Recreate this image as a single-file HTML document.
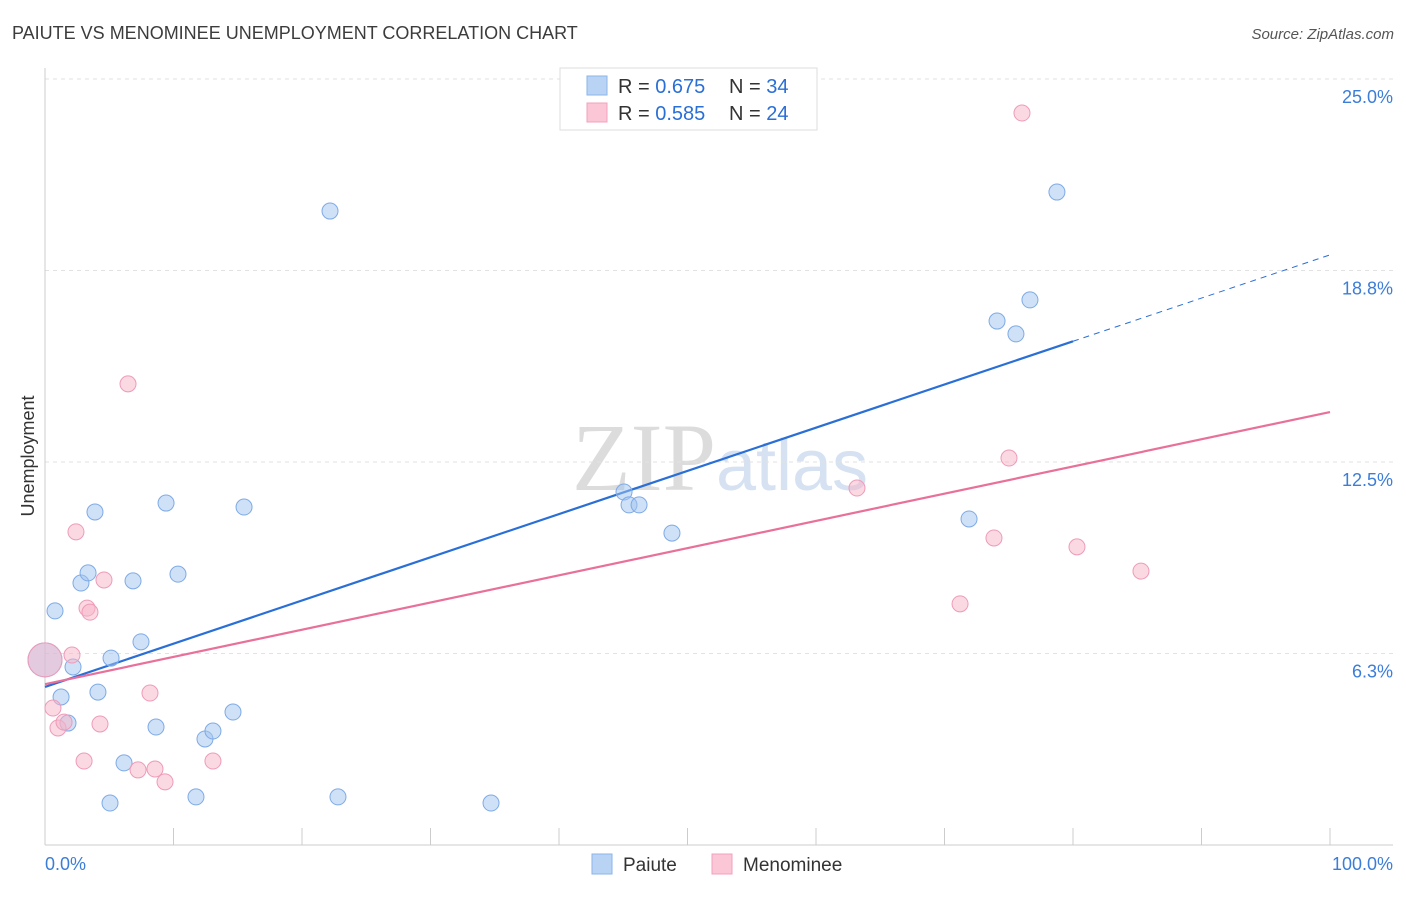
<!DOCTYPE html>
<html><head><meta charset="utf-8"><style>
body{margin:0;background:#fff;font-family:"Liberation Sans",sans-serif;}
svg text{font-family:"Liberation Sans",sans-serif;}
</style></head><body>
<svg id="chart" width="1406" height="892" viewBox="0 0 1406 892" xmlns="http://www.w3.org/2000/svg">
<text x="12" y="39" font-size="18" fill="#3c3c3c">PAIUTE VS MENOMINEE UNEMPLOYMENT CORRELATION CHART</text>
<text x="1394" y="39" font-size="15" fill="#555" text-anchor="end" font-style="italic">Source: ZipAtlas.com</text>
<text x="720" y="490" font-size="96" text-anchor="middle" fill="#e4e4e4"><tspan font-family="Liberation Serif" fill="#dcdcdc">ZIP</tspan><tspan fill="#d6e2f2" font-size="72">atlas</tspan></text>
<g id="grid"></g>
<g id="axes"></g>
<g id="lines"></g>
<g id="points"></g>
<text transform="translate(34,456) rotate(-90)" font-size="18" fill="#333" text-anchor="middle">Unemployment</text>
<g>
<rect x="560" y="68" width="257" height="62" fill="#fff" stroke="#ddd"/>
<rect x="587" y="76" width="20" height="19" fill="#b9d3f5" stroke="#8ab4e8"/>
<rect x="587" y="103" width="20" height="19" fill="#fbc6d6" stroke="#f0a0bc"/>
<text x="618" y="93" font-size="20" fill="#333">R = <tspan fill="#2a6fd6">0.675</tspan></text>
<text x="729" y="93" font-size="20" fill="#333">N = <tspan fill="#2a6fd6">34</tspan></text>
<text x="618" y="120" font-size="20" fill="#333">R = <tspan fill="#2a6fd6">0.585</tspan></text>
<text x="729" y="120" font-size="20" fill="#333">N = <tspan fill="#2a6fd6">24</tspan></text>
</g>
<g>
<rect x="592" y="854" width="20" height="20" fill="#b9d3f5" stroke="#8ab4e8"/>
<text x="623" y="871" font-size="19" fill="#333">Paiute</text>
<rect x="712" y="854" width="20" height="20" fill="#fbc6d6" stroke="#f0a0bc"/>
<text x="743" y="871" font-size="19" fill="#333">Menominee</text>
</g>
</svg>
<script>
const yTicks=[6.25,12.5,18.75,25];
const yTickLabels=["6.3%","12.5%","18.8%","25.0%"];
const xTickLabels=["0.0%","100.0%"];
const paiuteX=[0,0.78,2.18,1.25,1.79,2.80,3.35,3.89,4.12,5.06,5.14,6.15,6.85,7.47,8.64,9.42,10.35,11.75,12.45,13.07,14.63,15.49,22.18,22.80,34.71,45.06,45.45,46.23,48.79,71.91,74.09,75.56,76.65,78.75];
const paiuteY=[6.04,7.64,5.81,4.83,3.98,8.55,8.88,10.87,4.99,1.37,6.10,2.68,8.62,6.63,3.85,11.16,8.84,1.57,3.46,3.72,4.34,11.03,20.69,1.57,1.37,11.52,11.10,11.10,10.18,10.64,17.10,16.68,17.79,21.31];
const menX=[0,0.62,1.01,1.48,2.10,2.41,3.04,3.27,3.50,4.28,4.59,6.46,7.24,8.17,8.56,9.34,13.07,63.19,71.21,73.85,75.02,76.03,80.31,85.29];
const menY=[6.04,4.47,3.82,4.01,6.20,10.22,2.74,7.73,7.60,3.95,8.65,15.05,2.45,4.96,2.48,2.06,2.74,11.65,7.87,10.02,12.63,23.89,9.73,8.94];
const paiuteTrend=[5.16,19.26];
const menTrend=[5.25,14.13];
const X=v=>45+v*12.85;
const Y=v=>845-v*30.64;
const NS="http://www.w3.org/2000/svg";
function mk(tag,attrs,parent){const e=document.createElementNS(NS,tag);for(const k in attrs)e.setAttribute(k,attrs[k]);document.getElementById(parent).appendChild(e);return e;}
yTicks.forEach((t,i)=>{
 const l=mk('line',{x1:45,x2:1393,y1:Y(t),y2:Y(t),stroke:'#e2e2e2','stroke-dasharray':'4,4'},'grid');
 
 
 const tx=mk('text',{x:1393,y:Y(t)+24,'font-size':18,fill:'#3b7dd8','text-anchor':'end'},'grid');
 tx.textContent=yTickLabels[i];
 
 
});
let a=mk('line',{x1:45,x2:45,y1:68,y2:845,stroke:'#ccc'},'axes');


a=mk('line',{x1:45,x2:1393,y1:845,y2:845,stroke:'#ccc'},'axes');


for(let i=1;i<=10;i++){
 const t=mk('line',{x1:X(i*10),x2:X(i*10),y1:828,y2:845,stroke:'#ccc'},'axes');
 
 
}
[[0,'start'],[100,'end']].forEach((p,i)=>{
 const t=mk('text',{x:i?1393:45,y:870,'font-size':18,fill:'#3b7dd8','text-anchor':p[1]},'axes');
 t.textContent=xTickLabels[i];
 
 
});
const slope=(paiuteTrend[1]-paiuteTrend[0])/100;
let ln=mk('line',{x1:X(0),y1:Y(paiuteTrend[0]),x2:X(80),y2:Y(paiuteTrend[0]+slope*80),stroke:'#2a6fd6','stroke-width':2.2},'lines');


ln=mk('line',{x1:X(80),y1:Y(paiuteTrend[0]+slope*80),x2:X(100),y2:Y(paiuteTrend[1]),stroke:'#2a6fd6','stroke-width':1,'stroke-dasharray':'6,5'},'lines');


ln=mk('line',{x1:X(0),y1:Y(menTrend[0]),x2:X(100),y2:Y(menTrend[1]),stroke:'#e8709a','stroke-width':2.2},'lines');


function pts(xs,ys,fill,stroke,name){
 xs.forEach((v,i)=>{
  const c=mk('circle',{cx:X(v),cy:Y(ys[i]),r:i===0?17:8,fill:fill,stroke:stroke,'stroke-width':1},'points');
  
  
 });
}
pts(paiuteX,paiuteY,'rgba(160,195,240,0.5)','#7eaae6','paiute-point');
pts(menX,menY,'rgba(248,180,200,0.5)','#ee9bb8','menominee-point');
</script>
</body></html>
